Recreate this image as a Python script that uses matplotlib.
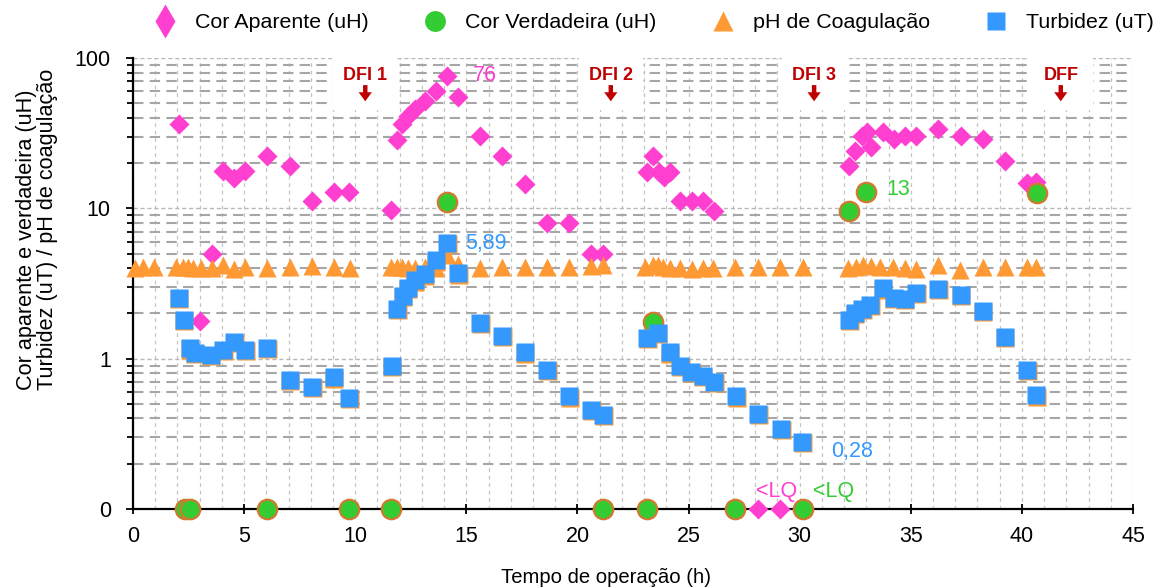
import numpy as np
import matplotlib
matplotlib.use("Agg")
import matplotlib.pyplot as plt
from matplotlib.ticker import FixedLocator, FixedFormatter, MultipleLocator, NullFormatter
from matplotlib.patches import Rectangle
from matplotlib.lines import Line2D
from matplotlib.transforms import offset_copy

plt.rcParams['font.family'] = ['Liberation Sans', 'DejaVu Sans']

# value used on the chart for results below the limit of quantification (<LQ)
LQ = 0.1

# Cor aparente (uH)
ca_t = [2.05, 3.0, 3.55, 4.05, 4.55, 5.05, 6.05, 7.05, 8.05, 9.05, 9.72,
        11.62, 11.89, 12.11, 12.37, 12.67, 13.13, 13.62, 14.14, 14.63, 15.63,
        16.62, 17.63, 18.64, 19.63, 20.63, 21.16,
        23.12, 23.4, 23.68, 23.9, 24.17, 24.63, 25.15, 25.67, 26.16, 28.14, 29.12,
        32.24, 32.48, 32.81, 33.04, 33.23, 33.76, 34.23, 34.73, 35.24, 36.23,
        37.24, 38.24, 39.23, 40.24, 40.65]
ca_v = [36.5, 1.77, 4.95, 17.6, 16.0, 17.6, 22.3, 19.2, 11.2, 12.9, 12.9,
        9.7, 28.4, 36.3, 41.3, 45.7, 52.0, 60.6, 76.0, 54.7, 30.3,
        22.3, 14.5, 8.0, 8.0, 4.95, 4.95,
        17.5, 22.3, 17.5, 16.2, 17.5, 11.2, 11.2, 11.2, 9.6, LQ, LQ,
        19.1, 23.9, 30.3, 32.3, 25.4, 32.0, 28.8, 30.3, 30.3, 33.6,
        30.3, 28.8, 20.7, 14.7, 15.0]

# Cor verdadeira (uH)
cv_t = [2.33, 2.55, 6.05, 9.72, 11.62, 14.14, 21.14, 23.11, 23.38, 27.09,
        30.15, 32.24, 33.0, 40.69]
cv_v = [LQ, LQ, LQ, LQ, LQ, 11.0, LQ, LQ, 1.75, LQ,
        LQ, 9.6, 12.8, 12.7]

# pH de coagulacao
ph_t = [0.08, 0.45, 0.95, 1.95, 2.25, 2.48, 2.7, 3.08, 3.56, 4.05, 4.55, 5.06,
        6.05, 7.06, 8.06, 9.05, 9.76,
        11.62, 11.89, 12.11, 12.37, 12.67, 13.13, 13.62, 14.14, 14.63, 15.63,
        16.62, 17.63, 18.64, 19.63, 20.63, 21.16,
        23.03, 23.38, 23.63, 23.86, 24.16, 24.61, 25.14, 25.66, 26.11, 27.09,
        28.14, 29.12, 30.13,
        32.19, 32.54, 32.87, 33.2, 33.62, 34.22, 34.72, 35.23, 36.22, 37.22,
        38.23, 39.22, 40.22, 40.63]
ph_v = [4.0, 4.1, 4.05, 4.05, 4.1, 4.05, 4.0, 4.0, 4.0, 4.2, 3.95, 4.1,
        4.0, 4.1, 4.15, 4.1, 4.0,
        4.1, 4.1, 4.1, 4.0, 4.0, 4.05, 4.0, 4.9, 4.25, 4.0,
        4.1, 4.05, 4.1, 4.05, 4.15, 4.2,
        4.05, 4.2, 4.2, 4.1, 4.0, 4.0, 3.95, 4.0, 4.0, 4.05,
        4.1, 4.1, 4.05,
        4.0, 4.1, 4.2, 4.15, 4.1, 4.1, 4.0, 3.95, 4.2, 3.9,
        4.05, 4.05, 4.05, 4.05]

# Turbidez (uT)
tu_t = [2.05, 2.29, 2.55, 2.78, 3.5, 4.06, 4.55, 5.04, 6.05, 7.06, 8.06, 9.04, 9.72,
        11.64, 11.89, 12.14, 12.37, 12.67, 13.13, 13.62, 14.14, 14.63, 15.63,
        16.62, 17.63, 18.64, 19.63, 20.63, 21.16,
        23.14, 23.62, 24.15, 24.63, 25.12, 25.63, 26.16, 27.15, 28.13, 29.16, 30.11,
        32.24, 32.49, 32.81, 33.18, 33.74, 34.24, 34.73, 35.24, 36.23, 37.24,
        38.24, 39.23, 40.24, 40.65]
tu_v = [2.54, 1.81, 1.17, 1.09, 1.06, 1.15, 1.30, 1.15, 1.18, 0.72, 0.65, 0.75, 0.55,
        0.90, 2.13, 2.6, 2.96, 3.31, 3.63, 4.5, 5.89, 3.69, 1.73,
        1.42, 1.10, 0.845, 0.56, 0.457, 0.42,
        1.37, 1.48, 1.10, 0.89, 0.82, 0.77, 0.70, 0.56, 0.43, 0.34, 0.28,
        1.82, 2.02, 2.15, 2.29, 2.93, 2.54, 2.5, 2.74, 2.92, 2.67,
        2.07, 1.39, 0.84, 0.57]

# event markers (DFI = descarga de fundo intermediaria, DFF = final)
ev_names = ['DFI 1', 'DFI 2', 'DFI 3', 'DFF']
ev_t = [10.45, 21.5, 30.65, 41.75]

pink = '#ff3fcf'
green = '#33cc33'
orange = '#ff9933'
blue = '#3399ff'
darkred = '#c00000'

fig = plt.figure(figsize=(11.6, 5.88), dpi=100)
ax = fig.add_axes([0.1147, 0.1344, 0.862, 0.767])

ax.set_yscale('log')
ax.set_xlim(0, 45)
ax.set_ylim(0.1, 100)

# grid
ax.set_axisbelow(True)
ax.xaxis.set_major_locator(MultipleLocator(5))
ax.xaxis.set_minor_locator(MultipleLocator(1))
ax.yaxis.set_major_locator(FixedLocator([0.1, 1, 10, 100]))
ax.yaxis.set_major_formatter(FixedFormatter(['0', '1', '10', '100']))
minor_y = [m * 10.0 ** k for k in (-1, 0, 1) for m in range(2, 10)]
ax.yaxis.set_minor_locator(FixedLocator(minor_y))
ax.yaxis.set_minor_formatter(NullFormatter())
ax.grid(axis='y', which='minor', color='#a6a6a6', lw=1.5, ls=(0, (5, 3)))
ax.grid(axis='y', which='major', color='#b8b8b8', lw=1.0, ls=(0, (3, 2)))
ax.grid(axis='x', which='both', color='#c4c4c4', lw=0.9, ls=(0, (3, 3)))

for s in ['top', 'right']:
    ax.spines[s].set_visible(False)
for s in ['left', 'bottom']:
    ax.spines[s].set_linewidth(1.6)
    ax.spines[s].set_color('black')

ax.tick_params(axis='y', which='major', length=5, width=1.3, labelsize=15.5,
               direction='out', pad=11)
ax.tick_params(axis='y', which='minor', length=4, width=1.3, direction='out')
ax.tick_params(axis='x', which='major', length=7, width=1.3, labelsize=15.5,
               direction='inout', pad=9)
ax.tick_params(axis='x', which='minor', length=0)

# white boxes behind event labels
for name, t in zip(ev_names, ev_t):
    ax.add_patch(Rectangle((t - 1.45, 45), 2.9, 55, facecolor='white',
                           edgecolor='none', zorder=1))
    ax.text(t, 77, name, color=darkred, fontsize=13, fontweight='bold',
            ha='center', va='center', zorder=6)
    ax.annotate('', xy=(t, 51.5), xytext=(t, 66),
                arrowprops=dict(width=3.2, headwidth=9.5, headlength=6.5,
                                facecolor=darkred, edgecolor='none',
                                shrink=0.0),
                zorder=6)

# series
ax.plot(ca_t, ca_v, ls='none', marker='D', ms=10, color=pink, mec='none',
        zorder=3, clip_on=False)
ax.plot(ph_t, ph_v, ls='none', marker='^', ms=13, color=orange, mec='none',
        zorder=4, clip_on=False)
ax.plot(cv_t, cv_v, ls='none', marker='o', ms=14, color=green, mec='#d07a30',
        mew=1.6, zorder=4.5, clip_on=False)
# thin orange rim under the squares
shifted = offset_copy(ax.transData, fig=fig, x=0.5, y=-1.2, units='dots')
ax.plot(tu_t, tu_v, ls='none', marker='s', ms=13, color=orange, mec='none',
        zorder=4.9, transform=shifted, clip_on=False)
ax.plot(tu_t, tu_v, ls='none', marker='s', ms=13, color=blue, mec='none',
        zorder=5, clip_on=False)

# value labels
ax.text(15.3, 76, '76', color=pink, fontsize=15.5, ha='left', va='center')
ax.text(14.95, 5.85, '5,89', color=blue, fontsize=15.5, ha='left', va='center')
ax.text(33.9, 13.3, '13', color=green, fontsize=15.5, ha='left', va='center')
ax.text(31.4, 0.24, '0,28', color=blue, fontsize=15.5, ha='left', va='center')
ax.text(28.05, 0.131, '<LQ', color=pink, fontsize=15.5, ha='left', va='center')
ax.text(30.6, 0.131, '<LQ', color=green, fontsize=15.5, ha='left', va='center')

ax.set_xlabel('Tempo de operação (h)', fontsize=14.6)
ax.xaxis.set_label_coords((606 - 133) / 1000, -0.131)
fig.text(37 / 1160, 1 - 390 / 588,
         'Cor aparente e verdadeira (uH)\nTurbidez (uT) / pH de coagulação',
         rotation=90, fontsize=15.6, ha='center', va='bottom',
         multialignment='left', linespacing=0.95)

handles = [
    Line2D([], [], ls='none', marker='d', ms=17, color=pink, mec='none'),
    Line2D([], [], ls='none', marker='o', ms=15, color=green, mec='none'),
    Line2D([], [], ls='none', marker='^', ms=15, color=orange, mec='none'),
    Line2D([], [], ls='none', marker='s', ms=13, color=blue, mec='none'),
]
labels = ['Cor Aparente (uH)', 'Cor Verdadeira (uH)', 'pH de Coagulação', 'Turbidez (uT)']
fig.legend(handles, labels, loc='center', bbox_to_anchor=(0.563, 0.961), ncol=4,
           frameon=False, fontsize=15.4, handletextpad=0.8, columnspacing=2.5,
           handlelength=1.2)

fig.savefig('out.png', dpi=100)
